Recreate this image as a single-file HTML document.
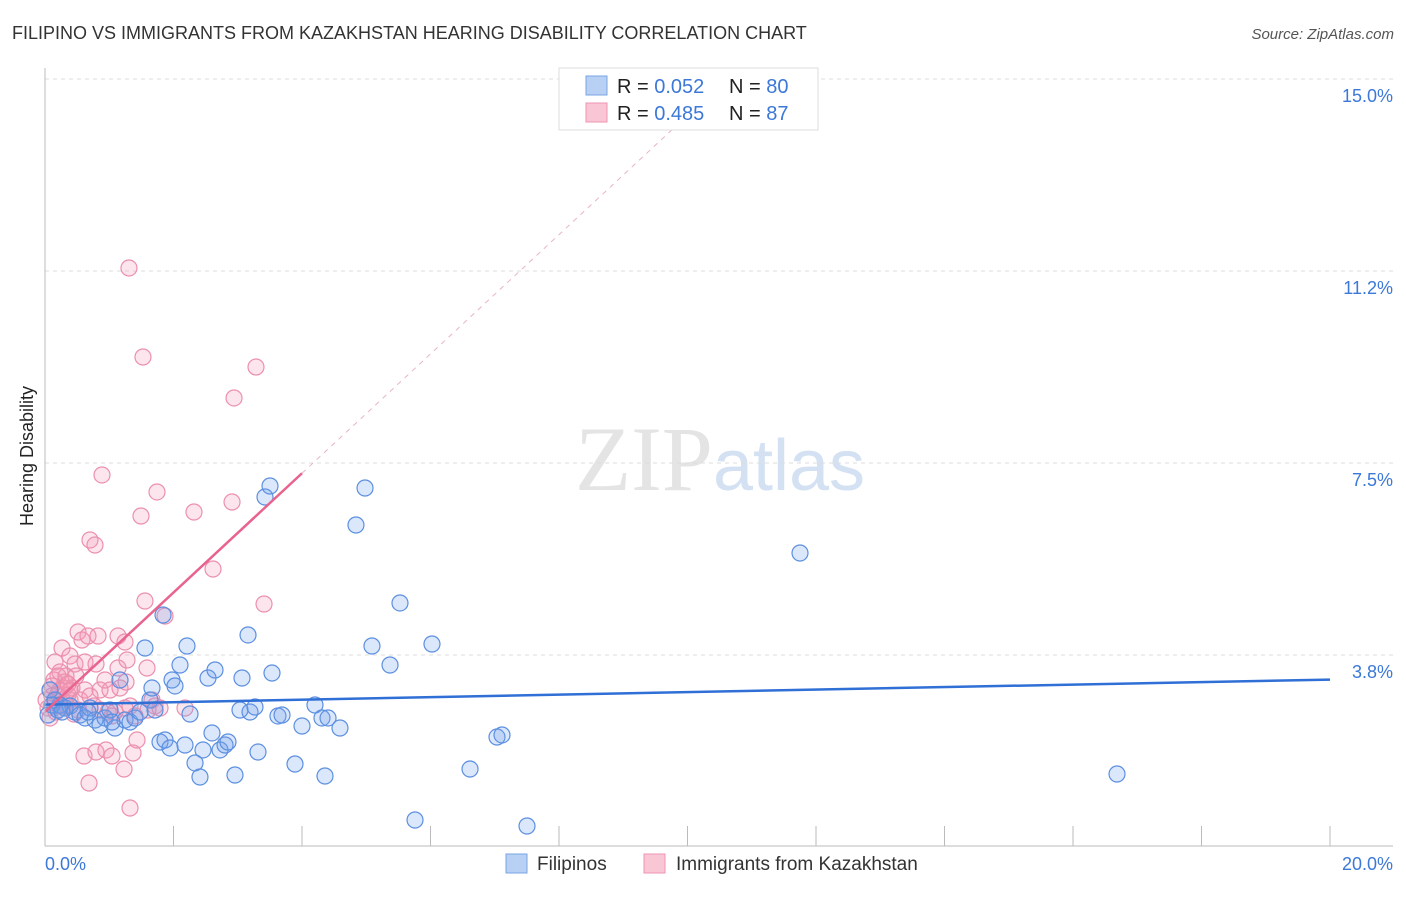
<!DOCTYPE html>
<html><head><meta charset="utf-8"><style>
body{margin:0;background:#fff;font-family:"Liberation Sans",sans-serif}
</style></head><body>
<svg id="c" width="1406" height="892" xmlns="http://www.w3.org/2000/svg" font-family="Liberation Sans, sans-serif">
<text x="12" y="39" font-size="18" fill="#333">FILIPINO VS IMMIGRANTS FROM KAZAKHSTAN HEARING DISABILITY CORRELATION CHART</text>
<text x="1394" y="39" font-size="15" fill="#555" font-style="italic" text-anchor="end">Source: ZipAtlas.com</text>
<text x="33" y="456" font-size="18" fill="#222" transform="rotate(-90 33 456)" text-anchor="middle">Hearing Disability</text>
<text x="720" y="490" font-size="92" fill="#e4e4e4" text-anchor="middle" font-family="Liberation Serif, serif">ZIP<tspan fill="#d3e1f3" font-family="Liberation Sans, sans-serif" font-size="72">atlas</tspan></text>
<g id="grid"></g><g id="pts"></g><g id="lines"></g>
<line x1="45" y1="68" x2="45" y2="846" stroke="#bbb"/>
<line x1="45" y1="846" x2="1393" y2="846" stroke="#bbb"/>
<text x="45" y="870" font-size="18" fill="#3b78d8">0.0%</text>
<text x="1393" y="870" font-size="18" fill="#3b78d8" text-anchor="end">20.0%</text>
<g>
<rect x="559" y="68" width="259" height="62" fill="#fff" stroke="#ddd"/>
<rect x="586" y="76" width="21" height="19" fill="#b8d0f3" stroke="#7aa6e6"/>
<rect x="586" y="103" width="21" height="19" fill="#f9c6d5" stroke="#ee94b0"/>
<text x="617" y="93" font-size="20" fill="#222">R = <tspan fill="#3b78d8">0.052</tspan><tspan x="729">N = </tspan><tspan fill="#3b78d8">80</tspan></text>
<text x="617" y="120" font-size="20" fill="#222">R = <tspan fill="#3b78d8">0.485</tspan><tspan x="729">N = </tspan><tspan fill="#3b78d8"> 87</tspan></text>
</g>
<g>
<rect x="506" y="854" width="21" height="19" fill="#b8d0f3" stroke="#7aa6e6"/>
<text x="537" y="870" font-size="19" fill="#333">Filipinos</text>
<rect x="644" y="854" width="21" height="19" fill="#f9c6d5" stroke="#ee94b0"/>
<text x="676" y="870" font-size="19" fill="#333">Immigrants from Kazakhstan</text>
</g>
</svg>
<script>
const yTicks=[3.75,7.5,11.25,15];
const yTickLabels=["3.8%","7.5%","11.2%","15.0%"];
const xTicks=[0,2,4,6,8,10,12,14,16,18,20];
const bluePx=[[50,690],[55,700],[60,705],[65,708],[70,706],[75,712],[80,715],[85,718],[90,708],[95,720],[100,725],[105,718],[110,710],[115,728],[120,680],[125,720],[130,722],[135,718],[140,712],[145,648],[150,700],[152,688],[155,710],[160,742],[163,615],[165,740],[170,748],[172,680],[175,686],[180,665],[185,745],[187,646],[190,714],[195,763],[200,777],[203,750],[208,678],[212,733],[215,670],[220,750],[225,745],[228,742],[235,775],[240,710],[242,678],[248,635],[250,712],[255,707],[258,752],[265,497],[270,486],[272,673],[278,716],[282,715],[295,764],[302,726],[315,705],[322,718],[325,776],[328,718],[340,728],[356,525],[365,488],[372,646],[390,665],[400,603],[415,820],[432,644],[470,769],[497,737],[502,735],[527,826],[800,553],[1117,774],[48,715],[52,705],[58,710],[62,712],[88,712],[112,722]];
const pinkPx=[[129,268],[143,357],[256,367],[234,398],[102,475],[157,492],[232,502],[141,516],[194,512],[90,540],[95,545],[213,569],[264,604],[145,601],[165,616],[124,769],[130,808],[89,783],[84,756],[96,752],[106,750],[112,756],[133,753],[137,740],[100,690],[110,690],[120,688],[126,682],[105,680],[118,668],[127,660],[147,668],[155,706],[185,708],[78,632],[82,640],[88,636],[98,636],[118,636],[125,642],[62,648],[70,656],[55,662],[75,664],[85,662],[96,664],[60,672],[65,682],[70,690],[50,690],[52,696],[55,700],[58,694],[62,700],[66,705],[70,700],[72,688],[48,708],[50,718],[56,712],[60,706],[64,688],[68,695],[74,714],[78,710],[80,700],[85,690],[90,696],[94,706],[100,710],[108,712],[112,716],[115,712],[125,708],[130,706],[135,716],[148,710],[152,700],[160,708],[54,680],[58,676],[66,676],[76,676],[60,690],[52,686],[68,684],[46,700]];
// convert to data values (percent)
const blueX=bluePx.map(p=>+((p[0]-45)/64.25).toFixed(3));
const blueY=bluePx.map(p=>+((847-p[1])/51.2).toFixed(3));
const pinkX=pinkPx.map(p=>+((p[0]-45)/64.25).toFixed(3));
const pinkY=pinkPx.map(p=>+((847-p[1])/51.2).toFixed(3));
const blueTrend=[2.78,3.27];
const pinkTrend=[2.64,7.3];
const sx=v=>45+v*64.25, sy=v=>847-v*51.2;
const NS="http://www.w3.org/2000/svg";
function mk(t,a,p){const e=document.createElementNS(NS,t);for(const k in a)e.setAttribute(k,a[k]);p.appendChild(e);return e;}
const grid=document.getElementById('grid');
yTicks.forEach((v,i)=>{
 const l=mk('line',{x1:45,x2:1393,y1:sy(v),y2:sy(v),stroke:'#ddd','stroke-dasharray':'4,4'},grid);
 
 
 const t=mk('text',{x:1393,y:sy(v)+23,'font-size':18,fill:'#3b78d8','text-anchor':'end'},grid);
 t.textContent=yTickLabels[i];
 
 
});
xTicks.forEach(v=>{
 if(v===0)return;
 const l=mk('line',{x1:sx(v),x2:sx(v),y1:826,y2:846,stroke:'#bbb'},grid);
 
 
});
const pts=document.getElementById('pts');
pinkX.forEach((x,i)=>{
 const c=mk('circle',{cx:sx(x),cy:sy(pinkY[i]),r:8,fill:'rgba(244,150,180,0.25)',stroke:'#ec8fae','stroke-width':1.2},pts);
 
 
});
blueX.forEach((x,i)=>{
 const c=mk('circle',{cx:sx(x),cy:sy(blueY[i]),r:8,fill:'rgba(110,160,235,0.25)',stroke:'#5b8fe0','stroke-width':1.2},pts);
 
 
});
const lines=document.getElementById('lines');
const bl=mk('line',{x1:sx(0),y1:sy(blueTrend[0]),x2:sx(20),y2:sy(blueTrend[1]),stroke:'#2f6fd6','stroke-width':2.5},lines);


const slope=(pinkTrend[1]-pinkTrend[0])/4;
const pd=mk('line',{x1:sx(4),y1:sy(pinkTrend[1]),x2:sx(10),y2:sy(pinkTrend[0]+slope*10),stroke:'#e8b4c4','stroke-width':1,'stroke-dasharray':'5,5'},lines);


const pl=mk('line',{x1:sx(0),y1:sy(pinkTrend[0]),x2:sx(4),y2:sy(pinkTrend[1]),stroke:'#e8648f','stroke-width':2.5},lines);


</script>
</body></html>
